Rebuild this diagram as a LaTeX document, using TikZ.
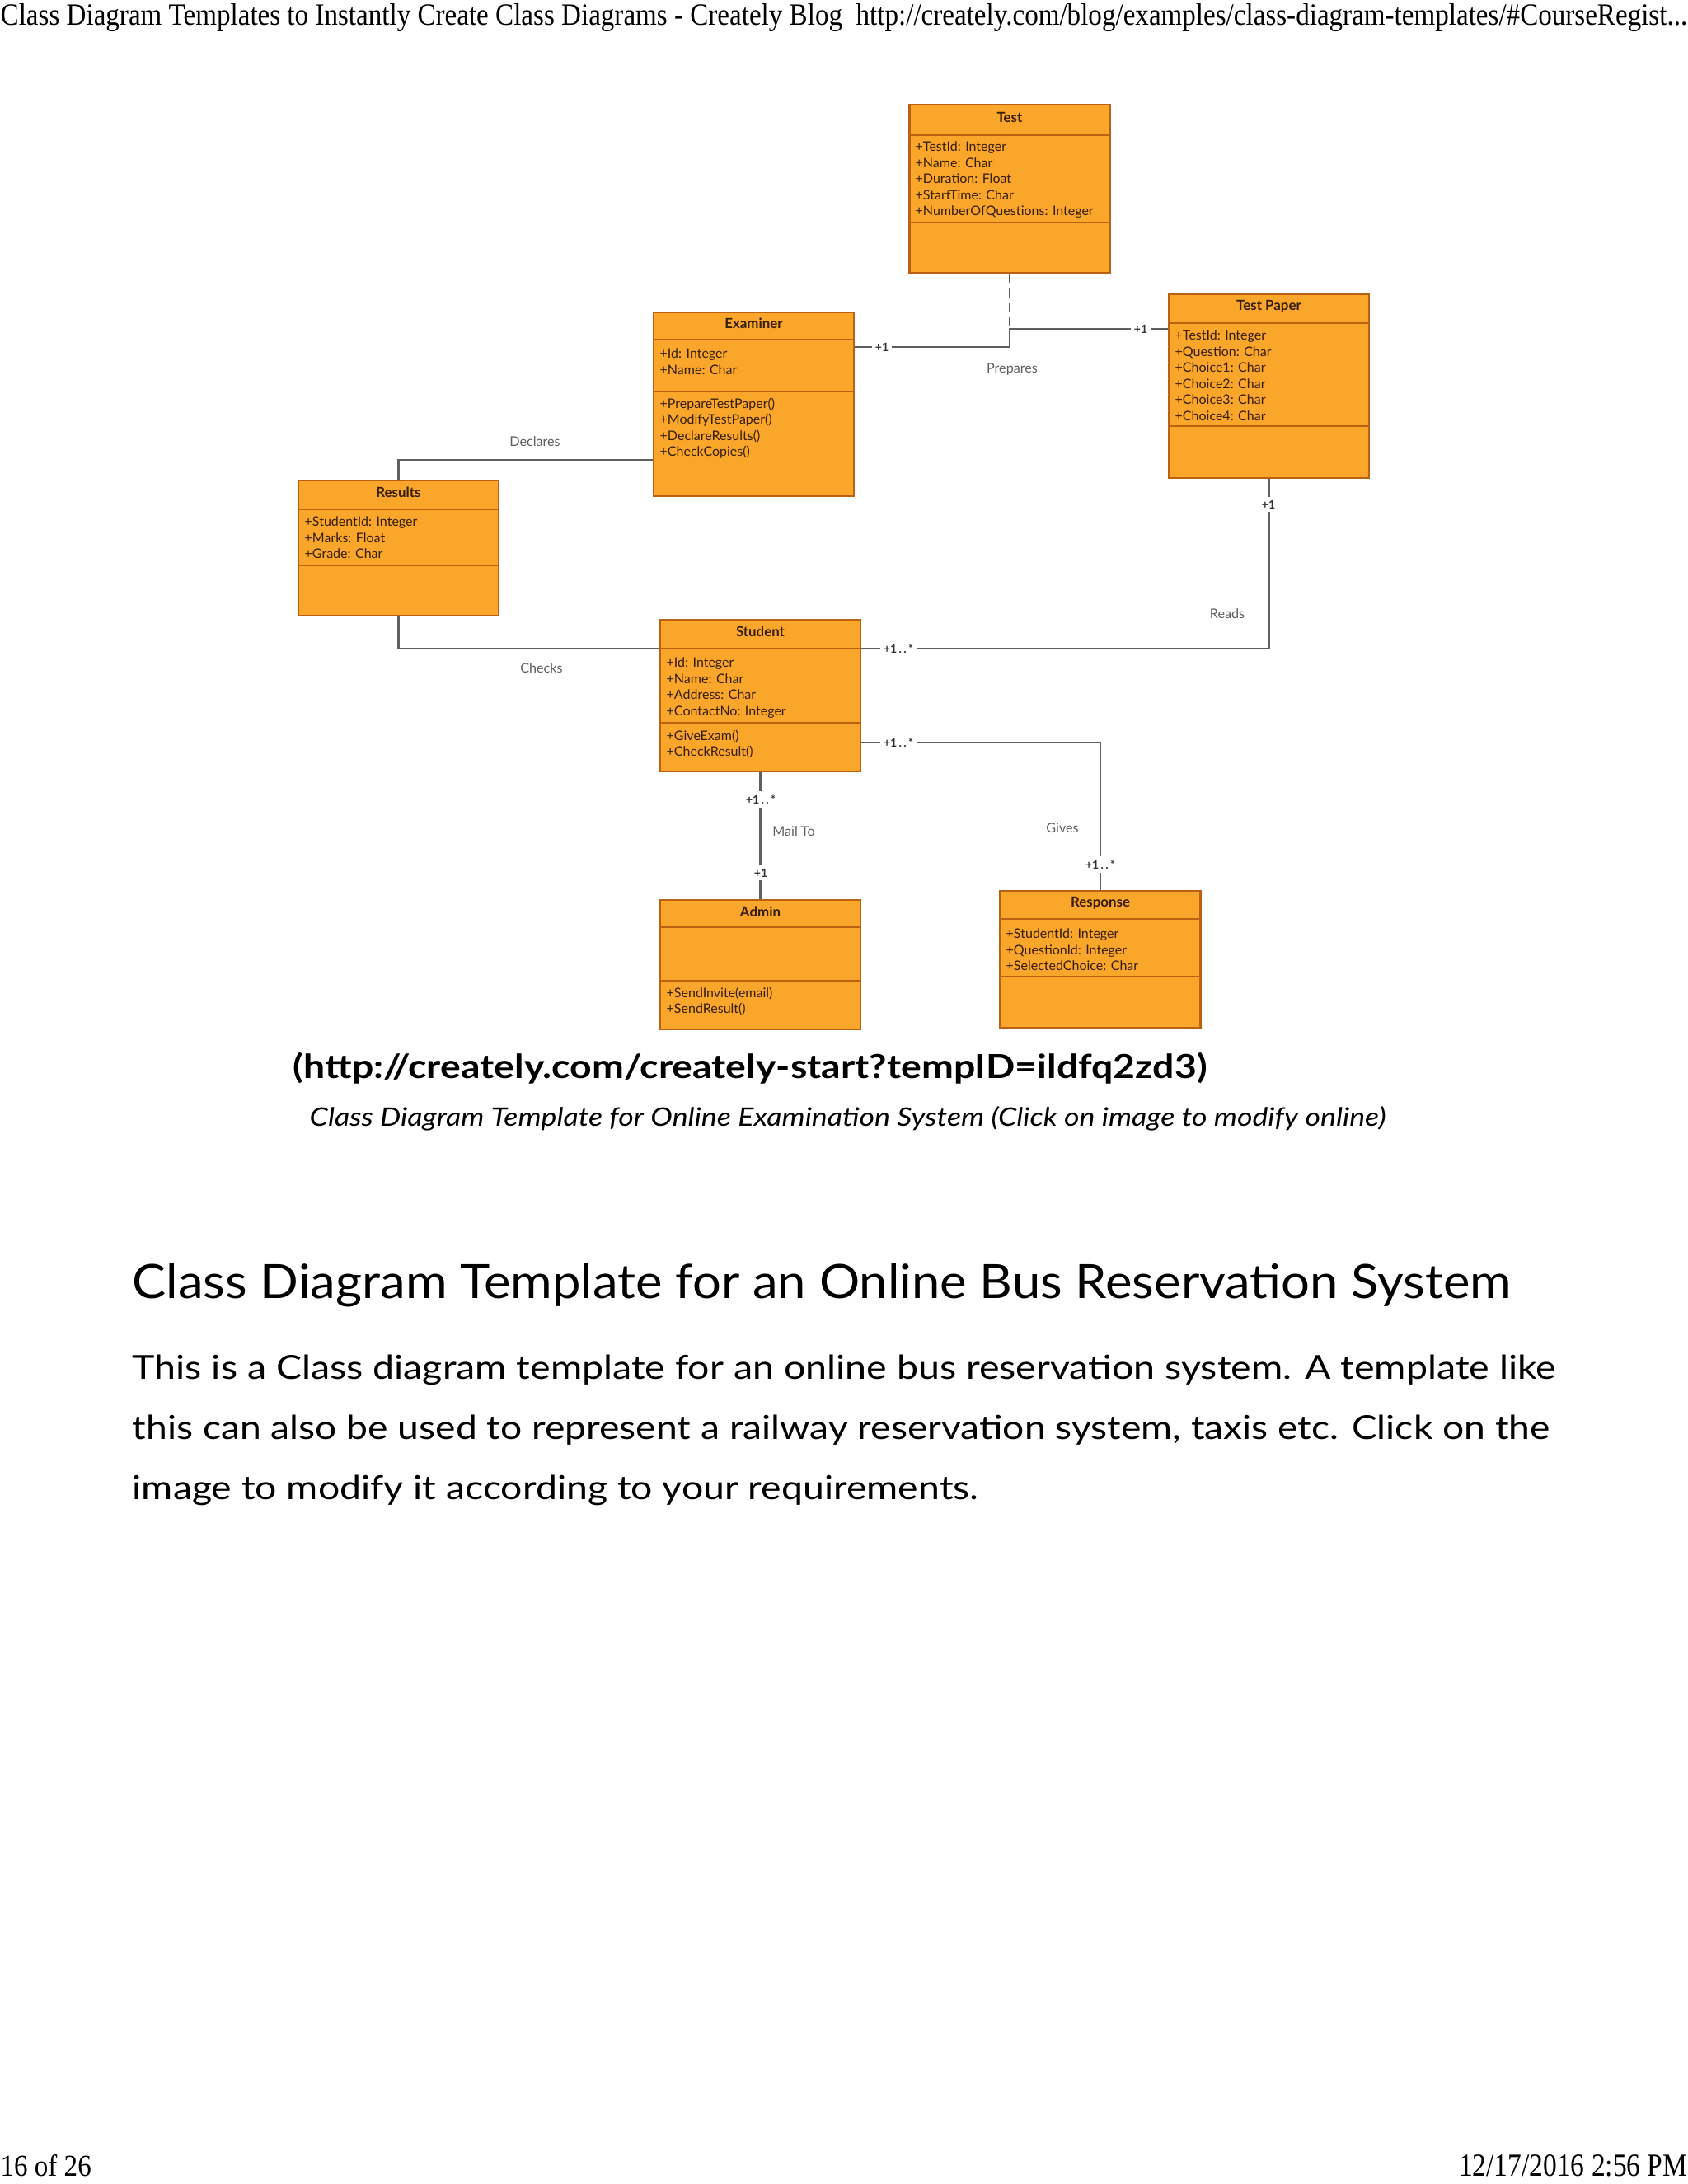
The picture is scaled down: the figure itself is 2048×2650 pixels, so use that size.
\documentclass[tikz,border=0pt]{standalone}
\usepackage{fontspec}
\setmainfont{Lato}
\newfontfamily\pagefont{Liberation Serif}

\definecolor{boxfill}{RGB}{250,166,43}
\definecolor{boxline}{RGB}{186,98,18}
\definecolor{boxtext}{RGB}{55,30,8}
\definecolor{linkgray}{RGB}{95,95,95}

\tikzset{
  classbox/.style={draw=boxline, fill=boxfill, line width=0.8pt, minimum width=2.43cm, inner sep=0pt},
  classsep/.style={draw=boxline, line width=0.8pt},
  classname/.style={font=\fontsize{4.8}{5.8}\selectfont\bfseries, text=boxtext},
  members/.style={anchor=north west, inner sep=0pt, align=left, font=\fontsize{4.55}{5.55}\selectfont, text=boxtext},
  assoc/.style={draw=linkgray, line width=0.65pt},
  mult/.style={fill=white, inner sep=1.2pt, font=\fontsize{4}{5}\selectfont\bfseries, text=black!80},
  rolename/.style={font=\fontsize{4.6}{5.5}\selectfont, text=linkgray},
  pagetext/.style={anchor=base west, inner sep=0pt},
}

\begin{document}
\begin{tikzpicture}[x=0.01cm, y=-0.01cm]
\useasboundingbox (0,0) rectangle (2048,2650);
\fill[white] (0,0) rectangle (2048,2650);

% browser header and footer
\node[pagetext] (pagetitle) at (0,30) {\resizebox{20.45cm}{0.26cm}{\pagefont Class Diagram Templates to Instantly Create Class Diagrams - Creately Blog\ \ http://creately.com/blog/examples/class-diagram-templates/\#CourseRegist...}};
\node[pagetext] (pagenum) at (0,2640) {\resizebox{1.1cm}{0.26cm}{\pagefont 16 of 26}};
\node[anchor=base east, inner sep=0pt] (pagedate) at (2048,2640) {\resizebox{2.77cm}{0.26cm}{\pagefont 12/17/2016 2:56 PM}};

% Test
\node[classbox, minimum height=2.04cm] (test) at (1225,229) {};
\draw[classsep] (1103,164) -- (1347,164) (1103,270) -- (1347,270);
\node[classname] (testname) at (1225,142) {Test};
\node[members] (testattr) at (1110,171) {+TestId: Integer\\+Name: Char\\+Duration: Float\\+StartTime: Char\\+NumberOfQuestions: Integer};

% Test Paper
\node[classbox, minimum height=2.23cm] (testpaper) at (1539.5,468.5) {};
\draw[classsep] (1418,392) -- (1661,392) (1418,517) -- (1661,517);
\node[classname] (testpapername) at (1539.5,371.5) {Test Paper};
\node[members] (testpaperattr) at (1425,400) {+TestId: Integer\\+Question: Char\\+Choice1: Char\\+Choice2: Char\\+Choice3: Char\\+Choice4: Char};

% Examiner
\node[classbox, minimum height=2.23cm] (examiner) at (914.5,490.5) {};
\draw[classsep] (793,412) -- (1036,412) (793,475) -- (1036,475);
\node[classname] (examinername) at (914.5,392.5) {Examiner};
\node[members] (examinerattr) at (800,422) {+Id: Integer\\+Name: Char};
\node[members] (examinerops) at (800,482) {+PrepareTestPaper()\\+ModifyTestPaper()\\+DeclareResults()\\+CheckCopies()};

% Results
\node[classbox, minimum height=1.64cm] (results) at (483.5,665) {};
\draw[classsep] (362,618) -- (605,618) (362,686) -- (605,686);
\node[classname] (resultsname) at (483.5,597.5) {Results};
\node[members] (resultsattr) at (369,626) {+StudentId: Integer\\+Marks: Float\\+Grade: Char};

% Student
\node[classbox, minimum height=1.84cm] (student) at (922.5,844) {};
\draw[classsep] (801,787) -- (1044,787) (801,877) -- (1044,877);
\node[classname] (studentname) at (922.5,766.5) {Student};
\node[members] (studentattr) at (808,797) {+Id: Integer\\+Name: Char\\+Address: Char\\+ContactNo: Integer};
\node[members] (studentops) at (808,885) {+GiveExam()\\+CheckResult()};

% Admin
\node[classbox, minimum height=1.57cm] (admin) at (922.5,1170.5) {};
\draw[classsep] (801,1125) -- (1044,1125) (801,1190) -- (1044,1190);
\node[classname] (adminname) at (922.5,1106) {Admin};
\node[members] (adminops) at (808,1197) {+SendInvite(email)\\+SendResult()};

% Response
\node[classbox, minimum height=1.66cm] (response) at (1335,1164) {};
\draw[classsep] (1213,1115) -- (1457,1115) (1213,1185) -- (1457,1185);
\node[classname] (responsename) at (1335,1096) {Response};
\node[members] (responseattr) at (1220,1126) {+StudentId: Integer\\+QuestionId: Integer\\+SelectedChoice: Char};

% associations
\coordinate (prepjoin) at (1225,421);
\coordinate (prepbend) at (1225,399);
\coordinate (declrow) at (0,558);
\coordinate (stuhead) at (0,787);
\coordinate (stuops) at (0,901);

\draw[assoc, densely dashed] (test.south) -- (prepbend);
\draw[assoc] (examiner.east |- prepjoin) -- (prepjoin) -- (prepbend) -- (testpaper.west |- prepbend);
\draw[assoc] (examiner.west |- declrow) -| (results.north);
\draw[assoc] (results.south) |- (student.west |- stuhead);
\draw[assoc] (student.east |- stuhead) -| (testpaper.south);
\draw[assoc] (student.east |- stuops) -| (response.north);
\draw[assoc] (student.south) -- (admin.north);

\node[mult] (m1) at (1070,421) {+1};
\node[mult] (m2) at (1384,399) {+1};
\node[mult] (m3) at (1090,787) {+1\,.\,.\,*};
\node[mult] (m4) at (1539,612) {+1};
\node[mult] (m5) at (1090,901) {+1\,.\,.\,*};
\node[mult] (m6) at (1335,1049) {+1\,.\,.\,*};
\node[mult] (m7) at (923,970) {+1\,.\,.\,*};
\node[mult] (m8) at (923,1059) {+1};

\node[rolename] (prepares) at (1228,448) {Prepares};
\node[rolename] (declares) at (649,536) {Declares};
\node[rolename] (checks) at (657,811) {Checks};
\node[rolename] (reads) at (1489,745) {Reads};
\node[rolename] (gives) at (1289,1005) {Gives};
\node[rolename] (mailto) at (963,1009) {Mail To};

% text below the picture
\node[pagetext] (url) at (355,1308) {\resizebox{11.08cm}{\height}{\fontsize{11.4}{13}\selectfont\bfseries (http://creately.com/creately-start?tempID=ildfq2zd3)}};
\node[pagetext] (caption) at (375,1366) {\resizebox{13.05cm}{\height}{\fontsize{8.8}{10}\selectfont\itshape Class Diagram Template for Online Examination System (Click on image to modify online)}};
\node[pagetext] (heading) at (160,1575) {\resizebox{16.72cm}{\height}{\fontsize{16.3}{19}\selectfont Class Diagram Template for an Online Bus Reservation System}};
\node[pagetext] (para1) at (160,1673) {\resizebox{17.26cm}{\height}{\fontsize{11.4}{13}\selectfont This is a Class diagram template for an online bus reservation system. A template like}};
\node[pagetext] (para2) at (160,1746) {\resizebox{17.19cm}{\height}{\fontsize{11.4}{13}\selectfont this can also be used to represent a railway reservation system, taxis etc. Click on the}};
\node[pagetext] (para3) at (160,1819) {\resizebox{10.26cm}{\height}{\fontsize{11.4}{13}\selectfont image to modify it according to your requirements.}};
\end{tikzpicture}
\end{document}
